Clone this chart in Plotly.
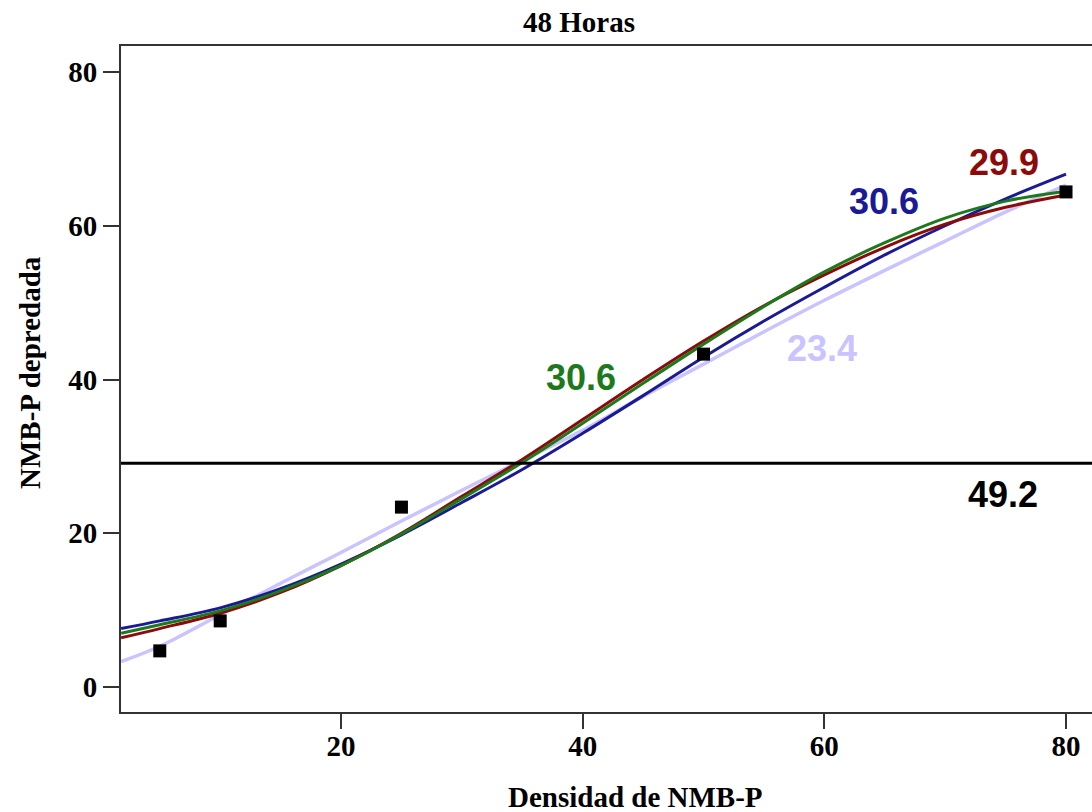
import plotly.graph_objects as go

# ---- data ----
obs_x = [5, 10, 25, 50, 80]
obs_y = [4.7, 8.6, 23.4, 43.3, 64.4]

curve_x = [1.8, 5, 10, 15, 20, 25, 30, 35, 40, 45, 50, 55, 60, 65, 70, 75, 80]
blue_y = [7.6, 8.6, 10.3, 12.8, 16.0, 19.8, 24.0, 28.3, 33.0, 37.9, 42.9, 47.6, 52.0, 56.2, 60.0, 63.5, 66.7]
red_y = [6.4, 7.6, 9.6, 12.3, 15.8, 20.0, 24.8, 29.6, 34.8, 40.0, 45.0, 49.6, 53.6, 57.2, 60.2, 62.4, 64.0]
green_y = [7.0, 8.1, 9.9, 12.5, 15.8, 19.9, 24.5, 29.2, 34.3, 39.5, 44.6, 49.5, 54.0, 57.8, 61.0, 63.2, 64.5]
lav_y = [3.3, 5.3, 9.4, 13.5, 17.5, 21.6, 25.6, 29.5, 33.4, 37.8, 42.0, 46.2, 50.3, 54.2, 58.0, 61.8, 65.3]
hline_y = 29.1

label_text = ["30.6", "29.9", "23.4", "30.6", "49.2"]
label_x = [64.9, 74.85, 59.8, 39.85, 74.8]
label_y = [63.1, 68.2, 44.0, 40.2, 25.1]

x_ticks = [20, 40, 60, 80]
y_ticks = [0, 20, 40, 60, 80]

title = "48 Horas"
x_title = "Densidad de NMB-P"
y_title = "NMB-P depredada"

# ---- styles ----
c_blue = "#1a1a96"
c_red = "#8c0a0a"
c_green = "#1c7a1c"
c_lav = "#c9c3ff"
label_colors = [c_blue, c_red, c_lav, c_green, "#000000"]

serif = "Liberation Serif, Times New Roman, serif"
sans = "Liberation Sans, Arial, sans-serif"

fig = go.Figure()
fig.add_trace(go.Scatter(x=curve_x, y=lav_y, mode="lines", line=dict(color=c_lav, width=3.5, shape="spline")))
fig.add_trace(go.Scatter(x=curve_x, y=blue_y, mode="lines", line=dict(color=c_blue, width=3, shape="spline")))
fig.add_trace(go.Scatter(x=curve_x, y=red_y, mode="lines", line=dict(color=c_red, width=3, shape="spline")))
fig.add_trace(go.Scatter(x=curve_x, y=green_y, mode="lines", line=dict(color=c_green, width=3, shape="spline")))
fig.add_trace(go.Scatter(x=obs_x, y=obs_y, mode="markers",
                         marker=dict(symbol="square", size=13, color="#000000")))

fig.add_hline(y=hline_y, line=dict(color="#000000", width=3))

for t, lx, ly, c in zip(label_text, label_x, label_y, label_colors):
    fig.add_annotation(x=lx, y=ly, text=t, showarrow=False,
                       font=dict(family=sans, size=36, color=c, weight="bold"),
                       xanchor="center", yanchor="middle")

fig.add_annotation(xref="paper", yref="paper", x=0.472, y=1, yshift=24, text=title, showarrow=False,
                   font=dict(family=serif, size=29, color="#000", weight="bold"),
                   yanchor="middle", xanchor="center")
fig.add_annotation(xref="paper", yref="paper", x=0.530, y=0, yshift=-85, text=x_title, showarrow=False,
                   font=dict(family=serif, size=29, color="#000", weight="bold"),
                   yanchor="middle", xanchor="center")
fig.add_annotation(xref="paper", yref="paper", x=0, xshift=-91, y=0.509, text=y_title, showarrow=False,
                   textangle=-90, font=dict(family=serif, size=29, color="#000", weight="bold"),
                   yanchor="middle", xanchor="center")

tickfont = dict(family=serif, size=29, color="#000", weight="bold")
fig.update_layout(
    width=1092, height=812,
    margin=dict(l=121, r=0, t=46, b=100),
    plot_bgcolor="white", paper_bgcolor="white",
    showlegend=False,
    xaxis=dict(range=[1.79, 82.15], tickvals=x_ticks, ticks="outside", ticklen=15, tickwidth=2,
               tickcolor="#333", showline=True, linecolor="#333", linewidth=2, mirror=True,
               showgrid=False, zeroline=False, ticklabelstandoff=-8, tickfont=tickfont),
    yaxis=dict(range=[-3.25, 83.38], tickvals=y_ticks, ticks="outside", ticklen=16, tickwidth=2,
               tickcolor="#333", showline=True, linecolor="#333", linewidth=2,
               showgrid=False, zeroline=False, tickfont=tickfont),
)

fig.write_html("out.html")
